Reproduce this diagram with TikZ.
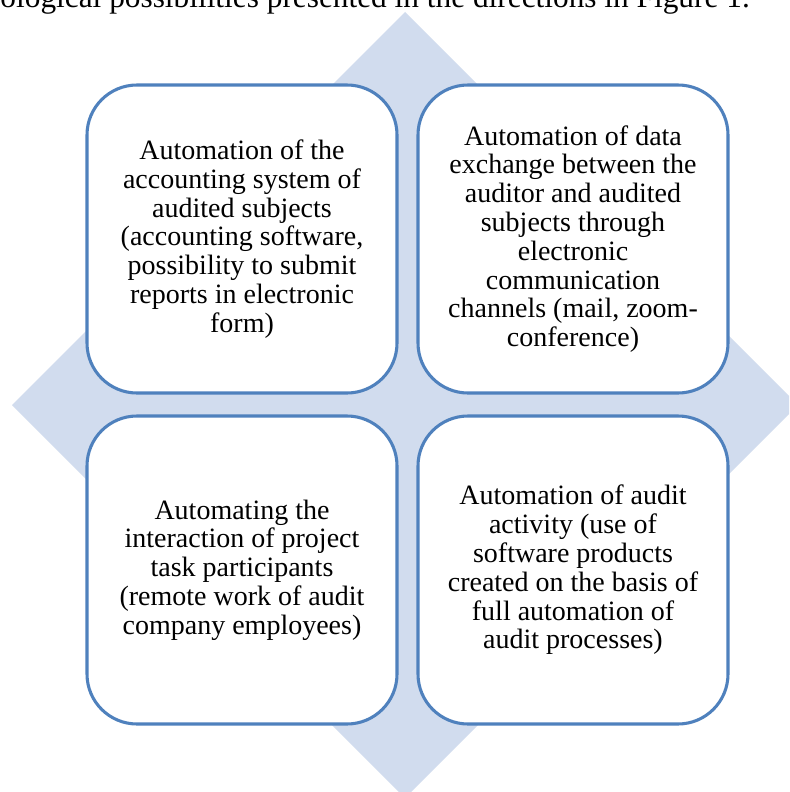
\documentclass[tikz,border=0pt]{standalone}
\usepackage{fontspec}
\setmainfont{Liberation Serif}
\definecolor{boxline}{RGB}{79,129,189}
\definecolor{diamondfill}{RGB}{209,220,238}
\tikzset{
  quad/.style={draw=boxline, line width=2.3pt, fill=white,
    rounded corners=37.5pt, minimum width=232.5pt, minimum height=231pt,
    align=center, inner sep=0pt,
    font=\fontsize{21}{21.6}\selectfont},
  caption/.style={inner sep=0pt, font=\fontsize{23.5}{26}\selectfont}
}
\begin{document}
\begin{tikzpicture}[x=0.75pt,y=-0.75pt]
  \clip (0,0) rectangle (789,792);
  \fill[white] (0,0) rectangle (789,792);
  % running text line of the page above the figure
  \node[caption, anchor=base east] (line) at (750,8)
    {ological possibilities presented in the directions in Figure 1.};
  % background diamond
  \fill[diamondfill] (405,12) -- (798,405) -- (405,798) -- (12,405) -- cycle;
  % four directions
  \node[quad] (tl) at (242,239) {Automation of the\\accounting system of\\audited subjects\\(accounting software,\\possibility to submit\\reports in electronic\\form)};
  \node[quad] (tr) at (573,239) {Automation of data\\exchange between the\\auditor and audited\\subjects through\\electronic\\communication\\channels (mail, zoom-\\conference)};
  \node[quad] (bl) at (242,570) {Automating the\\interaction of project\\task participants\\(remote work of audit\\company employees)};
  \node[quad] (br) at (573,570) {Automation of audit\\activity (use of\\software products\\created on the basis of\\full automation of\\audit processes)};
\end{tikzpicture}
\end{document}
